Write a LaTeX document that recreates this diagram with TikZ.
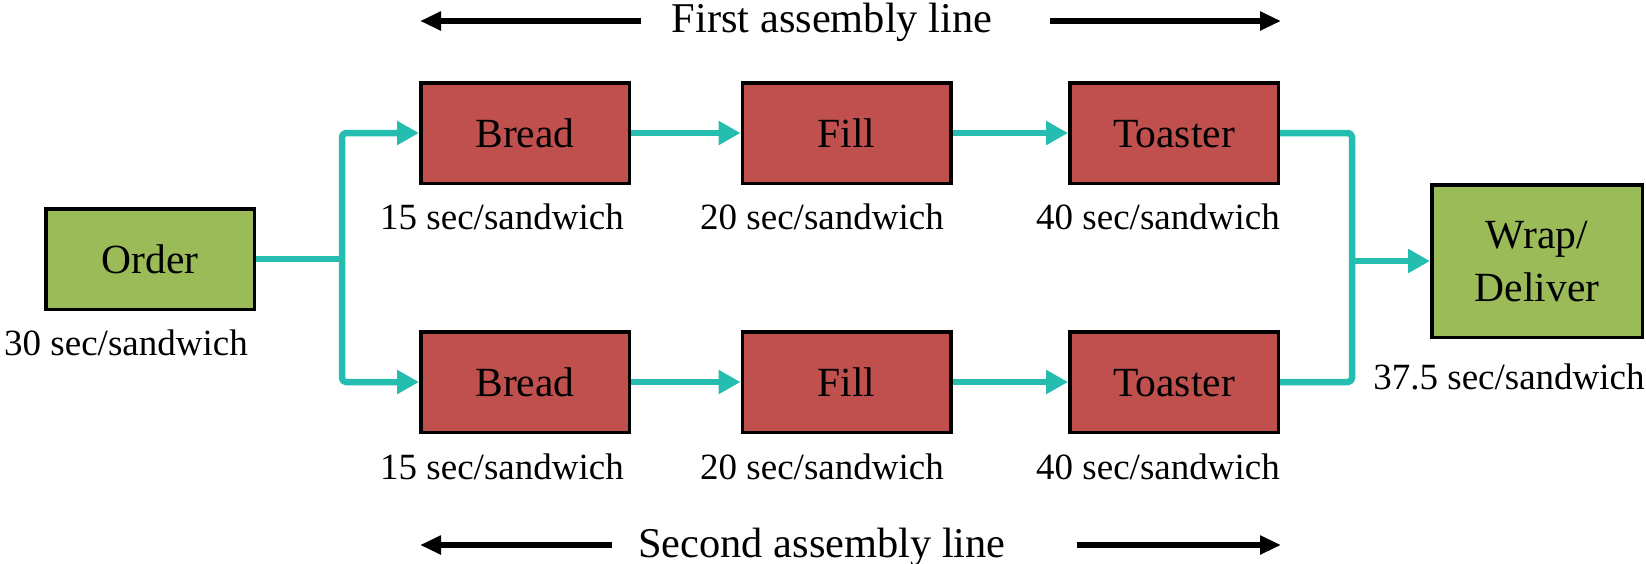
\documentclass[tikz,border=0pt]{standalone}
\usepackage{fontspec}
\setmainfont{Liberation Serif}
\usetikzlibrary{arrows.meta}
\definecolor{boxred}{RGB}{192,80,77}
\definecolor{boxgreen}{RGB}{155,187,89}
\definecolor{flow}{RGB}{36,189,176}
\begin{document}
\begin{tikzpicture}[x=0.5pt,y=-0.5pt,
  box/.style={draw=black,line width=1.75pt,minimum width=104.25pt,minimum height=50.25pt,inner sep=0pt,font=\fontsize{20.75}{25}\selectfont,text height=14pt,text depth=0pt},
  redbox/.style={box,fill=boxred},
  greenbox/.style={box,fill=boxgreen},
  boxtext/.style={anchor=base,font=\fontsize{20.75}{25}\selectfont,inner sep=0pt},
  rate/.style={anchor=base,font=\fontsize{18.5}{22}\selectfont,inner sep=0pt},
  title/.style={anchor=base,font=\fontsize{21.2}{25}\selectfont,inner sep=0pt},
  flowline/.style={draw=flow,line width=3.25pt,rounded corners=2pt,line join=round},
  flowarrow/.style={flowline,-{Triangle[length=11pt,width=11.5pt]}},
  dirarrow/.style={draw=black,line width=3pt,-{Triangle[length=10.5pt,width=9pt]}}]
\useasboundingbox (0,0) rectangle (1646,563);

% boxes
\node[greenbox] (order) at (150,259) {Order};
\node[redbox] (bread1) at (525,133) {Bread};
\node[redbox] (fill1) at (846.5,133) {Fill};
\node[redbox] (toast1) at (1174,133) {Toaster};
\node[redbox] (bread2) at (525,382) {Bread};
\node[redbox] (fill2) at (846.5,382) {Fill};
\node[redbox] (toast2) at (1174,382) {Toaster};
\node[greenbox,minimum width=105.25pt,minimum height=76.25pt] (wrap) at (1537,261) {};
\node[boxtext] (wrapa) at (1537,248) {Wrap/};
\node[boxtext] (wrapb) at (1537,301) {Deliver};

% rates
\node[rate] (rorder) at (126,355) {30 sec/sandwich};
\node[rate] (rb1) at (502,229) {15 sec/sandwich};
\node[rate] (rf1) at (822,229) {20 sec/sandwich};
\node[rate] (rt1) at (1158,229) {40 sec/sandwich};
\node[rate] (rb2) at (502,479) {15 sec/sandwich};
\node[rate] (rf2) at (822,479) {20 sec/sandwich};
\node[rate] (rt2) at (1158,479) {40 sec/sandwich};
\node[rate] (rwrap) at (1509,389) {37.5 sec/sandwich};

% titles
\node[title] (t1) at (832,32) {First assembly line};
\node[title] (t2) at (822,557) {Second assembly line};
\coordinate (t1l) at (641,21);
\coordinate (t1le) at (420,21);
\coordinate (t1r) at (1050,21);
\coordinate (t1re) at (1281,21);
\coordinate (t2l) at (612,545);
\coordinate (t2le) at (420,545);
\coordinate (t2r) at (1077,545);
\coordinate (t2re) at (1281,545);
\draw[dirarrow] (t1l) -- (t1le);
\draw[dirarrow] (t1r) -- (t1re);
\draw[dirarrow] (t2l) -- (t2le);
\draw[dirarrow] (t2r) -- (t2re);

% flow
\coordinate (j1) at (342,259);
\coordinate (j2) at (1352,261);
\draw[flowline] (order.east) -- (j1);
\draw[flowarrow] (j1) |- (bread1.west);
\draw[flowarrow] (j1) |- (bread2.west);
\draw[flowarrow] (bread1.east) -- (fill1.west);
\draw[flowarrow] (fill1.east) -- (toast1.west);
\draw[flowarrow] (bread2.east) -- (fill2.west);
\draw[flowarrow] (fill2.east) -- (toast2.west);
\draw[flowline] (toast1.east) -| (j2);
\draw[flowline] (toast2.east) -| (j2);
\draw[flowarrow] (j2) -- (wrap.west);
\end{tikzpicture}
\end{document}
